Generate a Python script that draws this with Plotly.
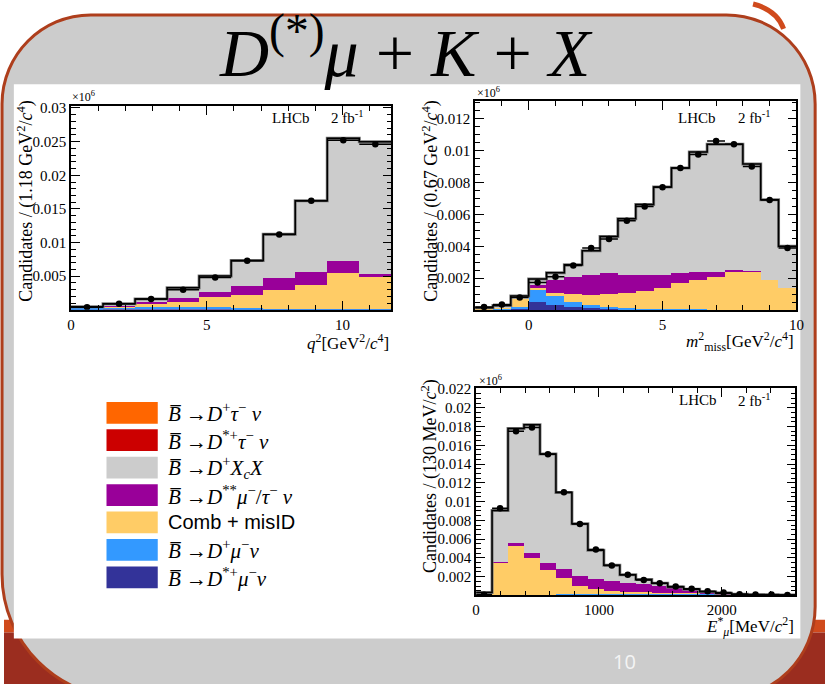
import plotly.graph_objects as go

W, H = 833, 684

# ---------------- data ----------------
# Panel 1 : q^2 [GeV^2/c^4], 10 bins of 1.18
q2_edges = [0, 1.18, 2.36, 3.54, 4.72, 5.9, 7.08, 8.26, 9.44, 10.62, 11.8]
q2_dstarmu = [0.0001, 0.0001, 0.0001, 0.0001, 0.0001, 0.0001, 0.00006, 0.00005, 0.00004, 0.00003]
q2_dmu = [0.00025, 0.0003, 0.00035, 0.00035, 0.0003, 0.00025, 0.00012, 0.0001, 0.00008, 0.00007]
q2_comb = [0.00005, 0.00015, 0.00045, 0.00075, 0.0015, 0.00185, 0.0028, 0.0035, 0.0054, 0.0048]
q2_dss = [0.00002, 0.0001, 0.0002, 0.0005, 0.0007, 0.0013, 0.0017, 0.002, 0.0017, 0.0004]
q2_dxcx = [0.00003, 0.00025, 0.0005, 0.0016, 0.0024, 0.0038, 0.0065, 0.0105, 0.0182, 0.0196]
q2_dstartau = [0, 0, 0, 0, 0.00001, 0.00002, 0.00003, 0.00004, 0.00005, 0.00005]
q2_dtau = [0, 0, 0, 0, 0.00001, 0.00002, 0.00003, 0.00004, 0.00005, 0.00005]
q2_data = [0.0004, 0.0009, 0.0016, 0.0030, 0.0048, 0.0073, 0.0112, 0.0162, 0.0252, 0.0246]
q2_yticks = [0.005, 0.01, 0.015, 0.02, 0.025, 0.03]
q2_yticktext = ["0.005", "0.01", "0.015", "0.02", "0.025", "0.03"]

# Panel 2 : m^2_miss [GeV^2/c^4], 18 bins of 0.67
mm_edges = [-2, -1.333, -0.667, 0, 0.667, 1.333, 2, 2.667, 3.333, 4, 4.667, 5.333, 6,
            6.667, 7.333, 8, 8.667, 9.333, 10]
mm_dstarmu = [0.00003, 0.00005, 0.0001, 0.0005, 0.00035, 0.0002, 0.00012, 0.00007, 0.00005,
              0.00004, 0.00003, 0.00002, 0.00002, 0.00001, 0.00001, 0.00001, 0.00001, 0]
mm_dmu = [0.00002, 0.00005, 0.0001, 0.00076, 0.00052, 0.0003, 0.00021, 0.00013, 0.00008,
          0.00006, 0.00005, 0.00004, 0.00003, 0.00003, 0.00002, 0.00002, 0.00001, 0.00001]
mm_comb = [0.00005, 0.00005, 0.0005, 0.00014, 0.00023, 0.0005, 0.00062, 0.0008, 0.00092,
           0.0011, 0.00132, 0.00164, 0.00185, 0.00206, 0.00237, 0.00237, 0.00188, 0.00139]
mm_dss = [0, 0.00001, 0.00002, 0.0002, 0.0008, 0.0011, 0.00125, 0.0013, 0.00115,
          0.001, 0.0008, 0.0006, 0.0005, 0.0003, 0.0001, 0.00005, 0.00001, 0.00001]
mm_dxcx = [0.00005, 0.00014, 0.00013, 0.0003, 0.0004, 0.0007, 0.0015, 0.0023, 0.0035,
           0.0044, 0.0055, 0.0066, 0.0075, 0.0080, 0.0079, 0.0067, 0.0050, 0.0026]
mm_dstartau = [0, 0, 0.00002, 0.00003, 0.00002, 0.00002, 0.00001, 0.00001, 0.00001,
               0.00001, 0.00001, 0, 0, 0, 0, 0, 0, 0]
mm_dtau = [0, 0, 0.00002, 0.00003, 0.00002, 0.00002, 0.00001, 0.00001, 0.00001,
           0.00001, 0.00001, 0, 0, 0, 0, 0, 0, 0]
mm_data = [0.0002, 0.00035, 0.0008, 0.00174, 0.0021, 0.0028, 0.0039, 0.00446, 0.0056,
           0.0065, 0.0077, 0.0089, 0.00975, 0.0106, 0.0104, 0.0090, 0.0069, 0.0039]
mm_yticks = [0.002, 0.004, 0.006, 0.008, 0.01, 0.012]
mm_yticktext = ["0.002", "0.004", "0.006", "0.008", "0.01", "0.012"]

# Panel 3 : E*_mu [MeV/c^2], 20 bins of 130
el_edges = [0, 130, 260, 390, 520, 650, 780, 910, 1040, 1170, 1300, 1430, 1560, 1690,
            1820, 1950, 2080, 2210, 2340, 2470, 2600]
el_dstarmu = [0, 0, 0, 0, 0, 0.00002, 0.00004, 0.00005, 0.00006, 0.00007, 0.00007, 0.00007,
              0.00007, 0.00006, 0.00005, 0.00004, 0.00002, 0.00001, 0, 0]
el_dmu = [0, 0.00005, 0.00005, 0.00006, 0.00007, 0.00008, 0.0001, 0.00012, 0.00013, 0.00014,
          0.00015, 0.00015, 0.00015, 0.00013, 0.0001, 0.00007, 0.00004, 0.00002, 0.00001, 0]
el_comb = [0.0001, 0.00345, 0.00525, 0.0039, 0.0026, 0.0017, 0.00086, 0.00048, 0.0003, 0.0002,
           0.00013, 0.00008, 0.00005, 0.00004, 0.00003, 0.00002, 0.00001, 0.00001, 0.00001, 0.00001]
el_dss = [0.00002, 0.0001, 0.0003, 0.00054, 0.00073, 0.001, 0.0011, 0.00105, 0.001, 0.0009,
          0.00085, 0.0007, 0.00055, 0.00035, 0.00018, 0.00008, 0.00003, 0.00001, 0.00001, 0.00001]
el_dxcx = [0.00018, 0.0054, 0.0121, 0.0136, 0.0116, 0.0081, 0.0055, 0.0031, 0.0017, 0.0009,
           0.0005, 0.0003, 0.00008, 0.00007, 0.00004, 0.00002, 0.00002, 0.00001, 0.00002, 0.00002]
el_dstartau = [0, 0.00003, 0.00005, 0.00005, 0.00004, 0.00003, 0.00002, 0.00001, 0.00001, 0,
               0, 0, 0, 0, 0, 0, 0, 0, 0, 0]
el_dtau = [0, 0.00003, 0.00005, 0.00005, 0.00004, 0.00003, 0.00002, 0.00001, 0.00001, 0,
           0, 0, 0, 0, 0, 0, 0, 0, 0, 0]
el_data = [0.00008, 0.0093, 0.0175, 0.0179, 0.01505, 0.0110, 0.0076, 0.0049, 0.0032, 0.0022,
           0.00164, 0.0013, 0.00094, 0.0007, 0.00045, 0.0003, 0.00012, 0.0001, 0.0001, 0.00005]
el_yticks = [0.002, 0.004, 0.006, 0.008, 0.01, 0.012, 0.014, 0.016, 0.018, 0.02, 0.022]
el_yticktext = ["0.002", "0.004", "0.006", "0.008", "0.01", "0.012", "0.014", "0.016",
                "0.018", "0.02", "0.022"]

# components, bottom -> top of the stack
comp_names = ["B→D*+μν", "B→D+μν", "Comb + misID", "B→D**μ/τν", "B→D+XcX", "B→D*+τν", "B→D+τν"]
comp_colors = ["#333399", "#3399FF", "#FFCC66", "#990099", "#CCCCCC", "#CC0000", "#FF6600"]

legend_labels = [
    "<i>B\u0305</i> \u2192<i>D</i><sup>+</sup><i>τ</i><sup>\u2212</sup> <i>ν</i>",
    "<i>B\u0305</i> \u2192<i>D</i><sup>*+</sup><i>τ</i><sup>\u2212</sup> <i>ν</i>",
    "<i>B\u0305</i> \u2192<i>D</i><sup>+</sup><i>X</i><sub><i>c</i></sub><i>X</i>",
    "<i>B\u0305</i> \u2192<i>D</i><sup>**</sup><i>μ</i><sup>\u2212</sup>/<i>τ</i><sup>\u2212</sup> <i>ν</i>",
    "Comb + misID",
    "<i>B\u0305</i> \u2192<i>D</i><sup>+</sup><i>μ</i><sup>\u2212</sup><i>ν</i>",
    "<i>B\u0305</i> \u2192<i>D</i><sup>*+</sup><i>μ</i><sup>\u2212</sup><i>ν</i>",
]
legend_colors = ["#FF6600", "#CC0000", "#CCCCCC", "#990099", "#FFCC66", "#3399FF", "#333399"]

panels = [
    dict(ax="x", ay="y", edges=q2_edges,
         comps=[q2_dstarmu, q2_dmu, q2_comb, q2_dss, q2_dxcx, q2_dstartau, q2_dtau], data=q2_data),
    dict(ax="x2", ay="y2", edges=mm_edges,
         comps=[mm_dstarmu, mm_dmu, mm_comb, mm_dss, mm_dxcx, mm_dstartau, mm_dtau], data=mm_data),
    dict(ax="x3", ay="y3", edges=el_edges,
         comps=[el_dstarmu, el_dmu, el_comb, el_dss, el_dxcx, el_dstartau, el_dtau], data=el_data),
]

fig = go.Figure()

for p in panels:
    e = p["edges"]
    centers = [(e[i] + e[i + 1]) / 2 for i in range(len(e) - 1)]
    widths = [e[i + 1] - e[i] for i in range(len(e) - 1)]
    for vals, name, col in zip(p["comps"], comp_names, comp_colors):
        fig.add_trace(go.Bar(x=centers, y=vals, width=widths, name=name, marker_color=col,
                             marker_line_width=0, xaxis=p["ax"], yaxis=p["ay"], showlegend=False,
                             hoverinfo="skip"))
    total = [sum(c[i] for c in p["comps"]) for i in range(len(centers))]
    fig.add_trace(go.Scatter(x=e, y=total + [total[-1]], mode="lines", line_shape="hv",
                             line=dict(color="#7A7A7A", width=3), xaxis=p["ax"], yaxis=p["ay"],
                             showlegend=False, hoverinfo="skip"))
    fig.add_trace(go.Scatter(x=e, y=total + [total[-1]], mode="lines", line_shape="hv",
                             line=dict(color="black", width=1.5), xaxis=p["ax"], yaxis=p["ay"],
                             showlegend=False, hoverinfo="skip"))
    fig.add_trace(go.Scatter(x=centers, y=p["data"], mode="markers",
                             marker=dict(color="black", size=6.5),
                             error_x=dict(type="data", array=[w / 2 for w in widths],
                                          color="black", thickness=1.5, width=0),
                             xaxis=p["ax"], yaxis=p["ay"], showlegend=False))


def fx(x):
    return x / W


def fy(y):
    return 1 - y / H


SERIF = "Liberation Serif"


def axis_common():
    return dict(showline=True, linecolor="black", linewidth=1.6, mirror="allticks",
                ticks="inside", ticklen=9, tickwidth=1.3, tickcolor="black",
                showgrid=False, zeroline=False,
                tickfont=dict(family=SERIF, size=15, color="black"))


def xaxis(domain, rng, dtick, mdtick, anchor):
    d = axis_common()
    d.update(domain=domain, range=rng, tick0=0, dtick=dtick, anchor=anchor,
             minor=dict(ticks="inside", ticklen=5, tickwidth=1.3, tickcolor="black",
                        tick0=0, dtick=mdtick, showgrid=False))
    return d


def yaxis(domain, rng, tvals, ttext, mdtick, anchor):
    d = axis_common()
    d.update(domain=domain, range=rng, tickmode="array", tickvals=tvals, ticktext=ttext,
             anchor=anchor,
             minor=dict(ticks="inside", ticklen=5, tickwidth=1.3, tickcolor="black",
                        tick0=0, dtick=mdtick, showgrid=False))
    return d


# ---------------- background shapes ----------------
def P(x, y):
    return f"{fx(x):.5f},{fy(y):.5f}"


k = 0.5523
x0, x1, y0, y1 = -2, 823, 8, 698
r1, r2, r3, r4 = 90, 90, 92, 125
slide_path = (
    f"M {P(x0, y0 + r1)} "
    f"C {P(x0, y0 + r1 - k * r1)} {P(x0 + r1 - k * r1, y0)} {P(x0 + r1, y0)} "
    f"L {P(x1 - r2, y0)} "
    f"C {P(x1 - r2 + k * r2, y0)} {P(x1, y0 + r2 - k * r2)} {P(x1, y0 + r2)} "
    f"L {P(x1, y1 - r3)} "
    f"C {P(x1, y1 - r3 + k * r3)} {P(x1 - r3 + k * r3, y1)} {P(x1 - r3, y1)} "
    f"L {P(x0 + r4, y1)} "
    f"C {P(x0 + r4 - k * r4, y1)} {P(x0, y1 - r4 + k * r4)} {P(x0, y1 - r4)} Z"
)

shapes = [
    dict(type="rect", xref="paper", yref="paper", x0=0, x1=1, y0=fy(632), y1=fy(619),
         fillcolor="#D04A1C", line_width=0, layer="below"),
    dict(type="rect", xref="paper", yref="paper", x0=0, x1=1, y0=fy(700), y1=fy(632),
         fillcolor="#9B2D1F", line_width=0, layer="below"),
    dict(type="path", xref="paper", yref="paper",
         path=f"M {P(760, -3)} Q {P(784, 3)} {P(791, 22)}",
         line=dict(color="#D04A1C", width=5), layer="below"),
    dict(type="path", xref="paper", yref="paper", path=slide_path,
         fillcolor="#CCCCCC", line=dict(color="#AE3E1C", width=3), layer="below"),
    dict(type="rect", xref="paper", yref="paper", x0=fx(10), x1=fx(808), y0=fy(638), y1=fy(78),
         fillcolor="white", line_width=0, layer="below"),
]

# legend swatches
for i, col in enumerate(legend_colors):
    top = 399 + i * 27.7
    shapes.append(dict(type="rect", xref="paper", yref="paper", x0=fx(104), x1=fx(156),
                       y0=fy(top + 22), y1=fy(top), fillcolor=col, line_width=0,
                       layer="above"))


def ann(text, x, y, size, xanchor="center", yanchor="middle", family=SERIF,
        color="black", angle=0):
    return dict(text=text, x=fx(x), y=fy(y), xref="paper", yref="paper", showarrow=False,
                font=dict(family=family, size=size, color=color), xanchor=xanchor,
                yanchor=yanchor, textangle=angle)


annotations = [
    ann("<i>D</i><sup>(*)</sup><i>μ</i> + <i>K</i> + <i>X</i>", 408, 41, 68),
    # panel 1
    ann("Candidates / (1.18 GeV<sup>2</sup>/<i>c</i><sup>4</sup>)", 22, 92, 18,
        yanchor="top", angle=-90),
    ann("<i>q</i><sup>2</sup>[GeV<sup>2</sup>/<i>c</i><sup>4</sup>]", 393, 338, 17,
        xanchor="right"),
    ann("×10<sup>6</sup>", 67, 90, 12, xanchor="left"),
    ann("LHCb", 270, 112, 15, xanchor="left"),
    ann("2 fb<sup>-1</sup>", 330, 111, 15, xanchor="left"),
    # panel 2
    ann("Candidates / (0.67 GeV<sup>2</sup>/<i>c</i><sup>4</sup>)", 433, 92, 18,
        yanchor="top", angle=-90),
    ann("<i>m</i><sup>2</sup><sub>miss</sub>[GeV<sup>2</sup>/<i>c</i><sup>4</sup>]", 804, 338, 17,
        xanchor="right"),
    ann("×10<sup>6</sup>", 478, 86, 12, xanchor="left"),
    ann("LHCb", 682, 112, 15, xanchor="left"),
    ann("2 fb<sup>-1</sup>", 743, 111, 15, xanchor="left"),
    # panel 3
    ann("Candidates / (130 MeV/<i>c</i><sup>2</sup>)", 432, 374, 18,
        yanchor="top", angle=-90),
    ann("<i>E</i><sup>*</sup><sub><i>μ</i></sub>[MeV/<i>c</i><sup>2</sup>]", 804, 626, 17,
        xanchor="right"),
    ann("×10<sup>6</sup>", 480, 377, 12, xanchor="left"),
    ann("LHCb", 683, 397, 15, xanchor="left"),
    ann("2 fb<sup>-1</sup>", 743, 397, 15, xanchor="left"),
    # page number
    ann("10", 630, 661, 20, family="Open Sans", color="#F4F4F4"),
]

for i, lab in enumerate(legend_labels):
    cy = 399 + i * 27.7 + 11
    if lab.startswith("Comb"):
        annotations.append(ann(lab, 164, cy, 20, xanchor="left", family="Liberation Sans"))
    else:
        annotations.append(ann(lab, 164, cy, 21, xanchor="left"))

fig.update_layout(
    width=W, height=H, margin=dict(l=0, r=0, t=0, b=0),
    paper_bgcolor="white", plot_bgcolor="rgba(0,0,0,0)",
    barmode="stack", bargap=0, showlegend=False,
    xaxis=xaxis([fx(68), fx(393)], [0, 11.8], 5, 1, "y"),
    yaxis=yaxis([fy(306), fy(100)], [0, 0.0303], q2_yticks, q2_yticktext, 0.001, "x"),
    xaxis2=xaxis([fx(478), fx(804)], [-2, 10], 5, 1, "y2"),
    yaxis2=yaxis([fy(306.3), fy(95)], [0, 0.0131], mm_yticks, mm_yticktext, 0.0005, "x2"),
    xaxis3=xaxis([fx(479), fx(803)], [0, 2600], 1000, 200, "y3"),
    yaxis3=yaxis([fy(594.5), fy(385)], [0, 0.0221], el_yticks, el_yticktext, 0.0005, "x3"),
    shapes=shapes, annotations=annotations,
)

fig.write_html("out.html")
